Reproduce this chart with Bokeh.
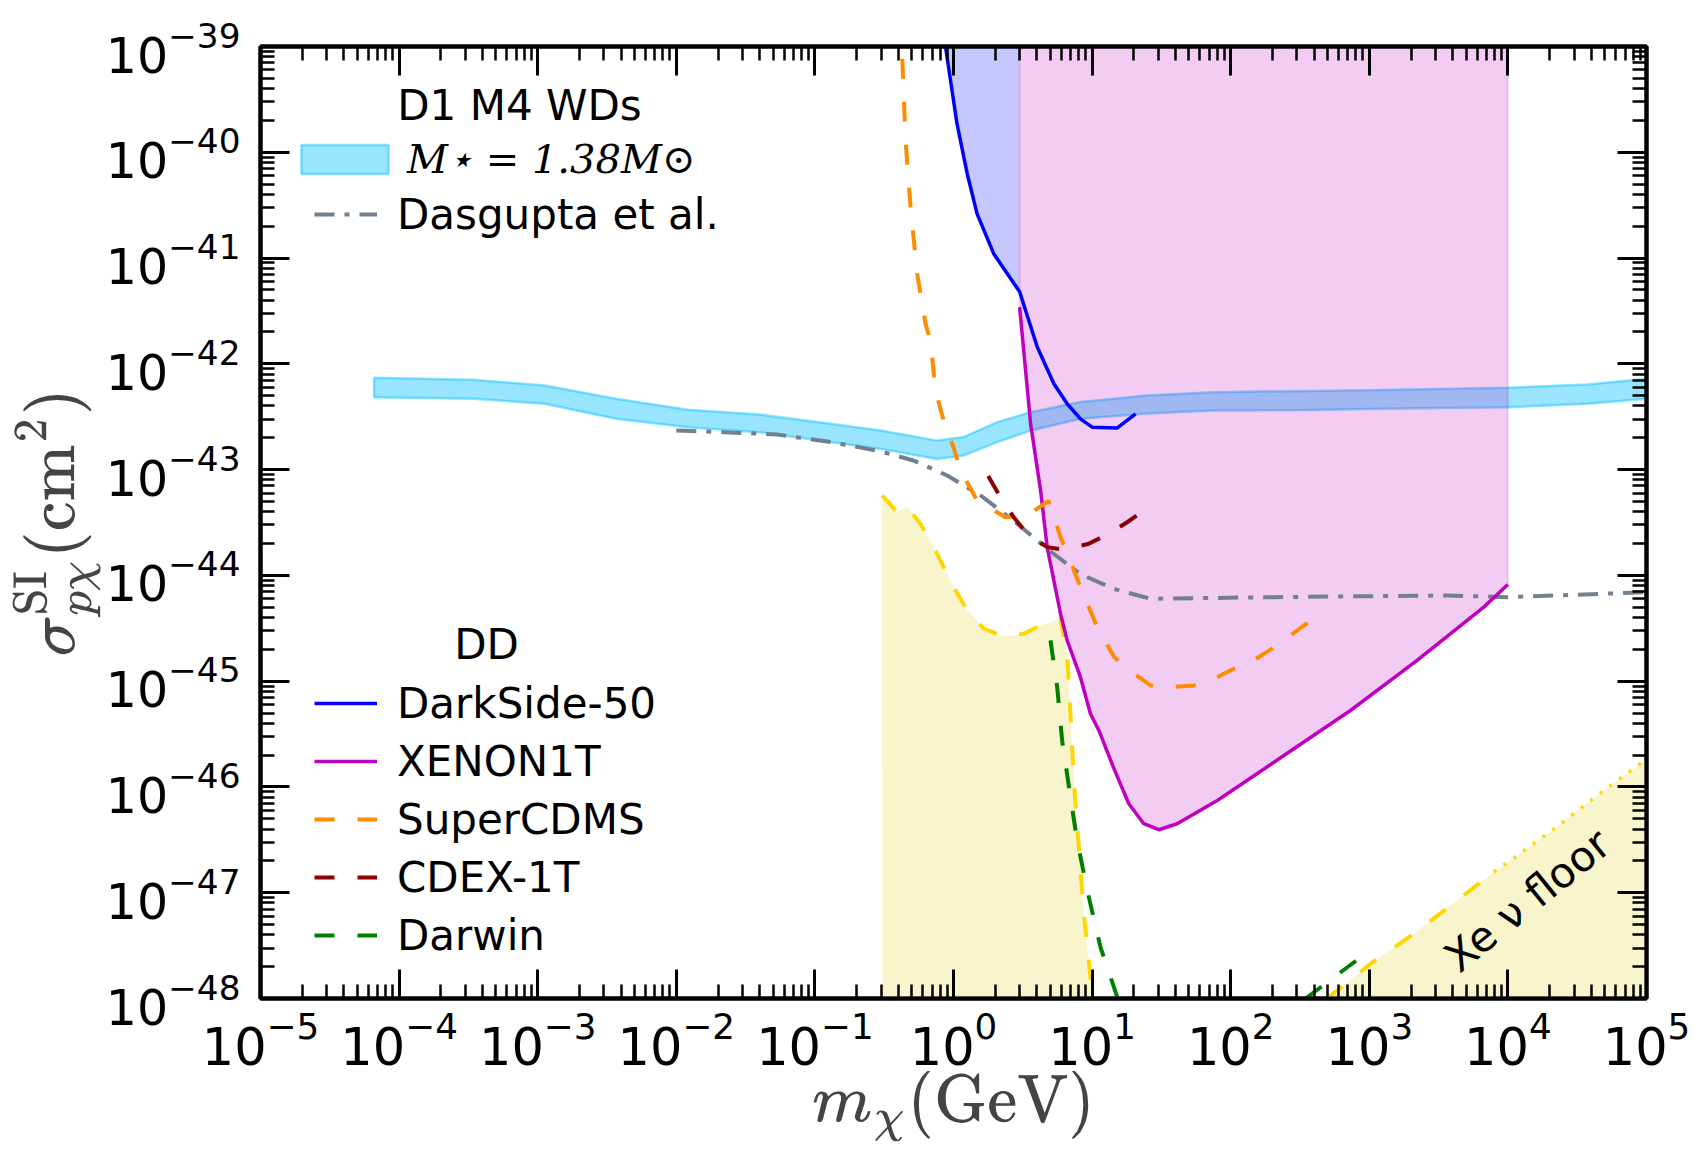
import math
from bokeh.plotting import figure
from bokeh.models import (LogAxis, FixedTicker, LogTickFormatter, Legend, LegendItem,
                          Label, Range1d)
from bokeh.embed import file_html
from bokeh.resources import INLINE

NaN = float("nan")

# ---------------- axes / ticks ----------------
x_decades = list(range(-5, 6))
y_decades = list(range(-48, -38))
x_ticks = [10.0 ** e for e in x_decades]
y_ticks = [10.0 ** e for e in y_decades]
x_minor = [k * 10.0 ** e for e in x_decades[:-1] for k in range(2, 10)]
y_minor = [k * 10.0 ** e for e in y_decades[:-1] for k in range(2, 10)]
x_title = r"$$m_\chi(\mathrm{GeV})$$"
y_title = r"$$\sigma^{\mathrm{SI}}_{p\chi}(\mathrm{cm}^2)$$"

# ---------------- data ----------------
# D1 M4 WD band, M* = 1.38 Msun
band_m = [6.6e-5, 3.4e-4, 1.12e-3, 3.68e-3, 1.21e-2, 3.95e-2, 0.130, 0.297, 0.762, 1.18,
          2.07, 3.60, 8.24, 24.9, 75.2, 371, 1205, 9930, 3.78e4, 1e5]
band_hi = [7.38e-43, 7.06e-43, 6.24e-43, 4.68e-43, 3.68e-43, 3.32e-43, 2.71e-43, 2.34e-43,
           1.88e-43, 2.03e-43, 2.81e-43, 3.49e-43, 4.35e-43, 5.02e-43, 5.40e-43, 5.55e-43,
           5.65e-43, 5.94e-43, 6.38e-43, 7.23e-43]
band_lo = [4.84e-43, 4.68e-43, 4.19e-43, 3.03e-43, 2.52e-43, 2.26e-43, 1.82e-43, 1.57e-43,
           1.26e-43, 1.36e-43, 1.82e-43, 2.34e-43, 3.02e-43, 3.39e-43, 3.62e-43, 3.67e-43,
           3.76e-43, 3.89e-43, 4.19e-43, 4.68e-43]

# Dasgupta et al.
dasgupta_m = [1e-2, 0.0219, 0.0532, 0.130, 0.297, 0.514, 0.900, 1.57, 2.71, 4.74, 8.24,
              14.3, 26.4, 207, 3720, 9930, 1e5]
dasgupta_s = [2.34e-43, 2.26e-43, 2.15e-43, 1.82e-43, 1.49e-43, 1.22e-43, 8.79e-44,
              5.69e-44, 3.30e-44, 1.78e-44, 1.03e-44, 7.46e-45, 6.01e-45, 6.23e-45,
              6.46e-45, 6.23e-45, 6.93e-45]

# DarkSide-50
darkside_m = [0.875, 1.06, 1.256, 1.48, 1.95, 3.0, 4.02, 5.30, 6.61, 8.24, 10.0, 15.2, 20.6]
darkside_s = [1e-39, 1.86e-40, 6.27e-41, 2.62e-41, 1.10e-41, 4.8e-42, 1.44e-42, 6.47e-43,
              4.19e-43, 3.02e-43, 2.52e-43, 2.48e-43, 3.37e-43]

# XENON1T
xenon_m = [3.0, 3.60, 4.25, 4.74, 5.92, 6.61, 8.24, 9.73, 11.2, 14.4, 18.4, 23.6, 30.3,
           41.1, 80.0, 242, 731, 2213, 6699, 1e4]
xenon_s = [3.44e-42, 2.71e-43, 6.35e-44, 1.85e-44, 4.34e-45, 2.43e-45, 1.09e-45, 4.92e-46,
           3.42e-46, 1.48e-46, 6.93e-47, 4.49e-47, 3.94e-47, 4.49e-47, 7.45e-47, 1.98e-46,
           5.28e-46, 1.57e-45, 5.01e-45, 8.20e-45]

# SuperCDMS
supercdms_m = [0.427, 0.451, 0.490, 0.547, 0.628, 0.682, 0.741, 0.875, 1.0, 1.125, 1.48,
               2.37, 3.40, 4.85, 5.92, 6.79, 8.24, 10.9, 14.4, 17.4, 26.4, 34.8, 54.2,
               71.4, 111, 139, 216, 337, 483]
supercdms_s = [7.66e-40, 1.29e-40, 3.03e-41, 7.10e-42, 2.39e-42, 1.66e-42, 5.60e-43,
               2.52e-43, 1.63e-43, 9.82e-44, 5.11e-44, 3.55e-44, 3.68e-44, 5.05e-44,
               2.30e-44, 1.49e-44, 7.74e-45, 3.24e-45, 1.69e-45, 1.36e-45, 9.10e-46,
               8.77e-46, 9.10e-46, 1.01e-45, 1.36e-45, 1.51e-45, 2.17e-45, 3.36e-45,
               4.66e-45]

# CDEX-1T
cdex_m = [1.78, 2.18, 2.72, 3.40, 4.74, 6.25, 9.46, 12.9, 17.9, 23.6]
cdex_s = [8.71e-44, 5.48e-44, 3.55e-44, 2.47e-44, 1.85e-44, 1.75e-44, 1.99e-44, 2.44e-44,
          3.18e-44, 4.11e-44]

# Darwin (the middle part lies below the plotted range)
darwin_m = [5.01, 5.60, 6.08, 6.98, 7.80, 9.23, 11.5, 15.2, NaN, 347, 1020]
darwin_s = [2.43e-45, 8.77e-46, 2.75e-46, 8.00e-47, 3.12e-47, 1.05e-47, 3.05e-48,
            1.03e-48, NaN, 1.0e-48, 2.88e-48]

# low-mass shaded region (gold dashed boundary)
lowmass_m = [0.306, 0.393, 0.463, 0.578, 0.762, 1.0, 1.26, 1.66, 2.31, 3.21, 4.25, 5.92,
             6.61, 6.98, 7.38, 8.02, 8.71, 9.73, 10.0]
lowmass_s = [5.69e-44, 3.95e-44, 4.42e-44, 3.07e-44, 1.60e-44, 7.74e-45, 4.66e-45,
             3.13e-45, 2.64e-45, 2.81e-45, 3.36e-45, 3.89e-45, 1.82e-45, 4.92e-46,
             1.15e-46, 2.70e-47, 6.32e-48, 1.59e-48, 1.0e-48]

# Xe neutrino floor
floor_m = [490, 586, 1021, 2094, 4305, 7907, 10447, 22700, 49200, 90600, 1e5]
floor_s = [1.0e-48, 1.19e-48, 2.13e-48, 4.09e-48, 8.45e-48, 1.57e-47, 2.02e-47, 4.23e-47,
           9.27e-47, 1.66e-46, 1.82e-46]
floor_dash_end = 6          # dashed up to here, dotted beyond
floor_label_m, floor_label_s = 1.38e4, 8.45e-48

# ---------------- figure ----------------
bottom, top = y_ticks[0], y_ticks[-1]

p = figure(width=1690, height=1145, x_axis_type="log", y_axis_type="log",
           x_range=Range1d(x_ticks[0], x_ticks[-1]), y_range=Range1d(bottom, top),
           output_backend="svg", toolbar_location=None,
           min_border_left=260, min_border_right=44, min_border_top=46,
           min_border_bottom=147, background_fill_color="white",
           border_fill_color="white")
p.grid.visible = False
p.outline_line_color = "black"
p.outline_line_width = 4


def style_axis(ax, ticks, minors, show):
    ax.ticker = FixedTicker(ticks=ticks, minor_ticks=minors)
    ax.formatter = LogTickFormatter()
    ax.axis_line_width = 4
    ax.axis_line_color = "black"
    ax.major_tick_in = 29
    ax.major_tick_out = 0
    ax.major_tick_line_width = 3
    ax.minor_tick_in = 14
    ax.minor_tick_out = 0
    ax.minor_tick_line_width = 2.5
    ax.major_label_text_font = "DejaVu Sans"
    ax.major_label_text_color = "black"
    if show:
        ax.major_label_text_font_size = "51px"
    else:
        ax.major_label_text_font_size = "1px"
        ax.major_label_text_color = None
        ax.major_label_standoff = 0


xa = p.xaxis[0]
ya = p.yaxis[0]
style_axis(xa, x_ticks, x_minor, True)
style_axis(ya, y_ticks, y_minor, True)
ya.major_label_text_font_size = "49px"
xa.major_label_standoff = 12
ya.major_label_standoff = 20
xa.axis_label = x_title
ya.axis_label = y_title
xa.axis_label_text_font_size = "58px"
ya.axis_label_text_font_size = "58px"
xa.axis_label_standoff = 3
ya.axis_label_standoff = 2

ax_top = LogAxis()
style_axis(ax_top, x_ticks, x_minor, False)
p.add_layout(ax_top, "above")
ax_right = LogAxis()
style_axis(ax_right, y_ticks, y_minor, False)
p.add_layout(ax_right, "right")

# ---------------- renderers ----------------
band = p.patch(x=band_m + band_m[::-1], y=band_lo + band_hi[::-1],
               fill_color="deepskyblue", fill_alpha=0.4,
               line_color="deepskyblue", line_alpha=0.45, line_width=2.5)

# XENON1T excluded region
p.patch(x=xenon_m + [xenon_m[-1], xenon_m[0]], y=xenon_s + [top, top],
        fill_color="#BF00BF", fill_alpha=0.2, line_color="#BF00BF", line_alpha=0.15,
        line_width=2)

# DarkSide-50 excluded region left of XENON1T
k = sum(1 for m in darkside_m if m <= xenon_m[0])
p.patch(x=darkside_m[:k] + [darkside_m[k - 1], darkside_m[0]],
        y=darkside_s[:k] + [top, top],
        fill_color="blue", fill_alpha=0.22, line_alpha=0)

# low-mass and neutrino-floor shaded regions
p.varea(x=lowmass_m, y1=[bottom] * len(lowmass_m), y2=lowmass_s,
        fill_color="khaki", fill_alpha=0.45)
p.varea(x=floor_m, y1=[bottom] * len(floor_m), y2=floor_s,
        fill_color="khaki", fill_alpha=0.45)

dash = "20 23"
das = p.line(dasgupta_m, dasgupta_s, line_color="slategray", line_width=4,
             line_dash="20 10 5 10")
p.line(lowmass_m, lowmass_s, line_color="gold", line_width=4, line_dash=dash)
p.line(floor_m[:floor_dash_end], floor_s[:floor_dash_end], line_color="gold",
       line_width=4, line_dash=dash)
p.line(floor_m[floor_dash_end - 1:], floor_s[floor_dash_end - 1:], line_color="gold",
       line_width=3.5, line_dash="3 9")
r_ds = p.line(darkside_m, darkside_s, line_color="blue", line_width=3.5)
r_xe = p.line(xenon_m, xenon_s, line_color="#BF00BF", line_width=3.5)
r_sc = p.line(supercdms_m, supercdms_s, line_color="darkorange", line_width=4,
              line_dash=dash)
r_cd = p.line(cdex_m, cdex_s, line_color="darkred", line_width=4, line_dash=dash)
r_dw = p.line(darwin_m, darwin_s, line_color="green", line_width=4, line_dash=dash)

# ---------------- legends ----------------
def make_legend(items, loc, gw, gh, standoff, font="DejaVu Sans", style="normal",
                size="42px"):
    lg = Legend(items=items, location=loc, glyph_width=gw, glyph_height=gh,
                label_standoff=standoff, padding=0, margin=0, spacing=0,
                border_line_color=None, background_fill_alpha=0,
                label_text_font=font, label_text_font_style=style,
                label_text_font_size=size, label_text_color="black")
    p.add_layout(lg)
    return lg


make_legend([LegendItem(label="M⋆ = 1.38M⊙", renderers=[band])], (30, 816), 109, 36, 8,
            font="DejaVu Serif", style="italic", size="40px")
make_legend([LegendItem(label="Dasgupta et al.", renderers=[das])], (54, 755), 63, 58, 20)
make_legend([LegendItem(label="DarkSide-50", renderers=[r_ds]),
             LegendItem(label="XENON1T", renderers=[r_xe]),
             LegendItem(label="SuperCDMS", renderers=[r_sc]),
             LegendItem(label="CDEX-1T", renderers=[r_cd]),
             LegendItem(label="Darwin", renderers=[r_dw])], (54, 34), 63, 58, 20)

for txt, lx, ly in [("D1 M4 WDs", 259, 893), ("DD", 226, 354)]:
    p.add_layout(Label(x=lx, y=ly, x_units="screen", y_units="screen", text=txt,
                       text_align="center", text_baseline="middle",
                       text_font="DejaVu Sans", text_font_size="42px",
                       text_color="black"))

p.add_layout(Label(x=floor_label_m, y=floor_label_s, text="Xe ν floor",
                   angle=math.radians(39), text_align="center", text_baseline="middle",
                   text_font="DejaVu Sans", text_font_size="42px", text_color="black"))

open("out.html", "w").write(file_html(p, INLINE))
